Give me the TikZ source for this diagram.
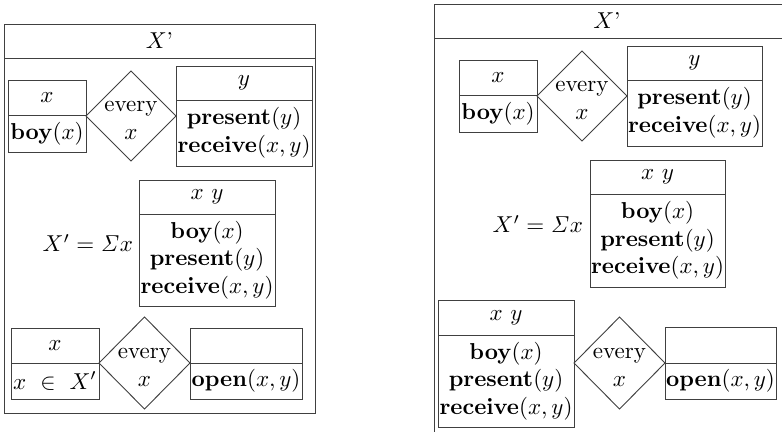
\documentclass[tikz,border=0pt]{standalone}
\usetikzlibrary{shapes.geometric}
\def\PX{0.4348}
\tikzset{
  cell/.style={draw=black!75, line width=0.4pt, rectangle, inner sep=0pt, outer sep=0pt, anchor=north west, align=center},
  dia/.style={draw=black!75, line width=0.4pt, diamond, inner sep=0pt, outer sep=0pt},
  lbl/.style={inner sep=0pt, outer sep=0pt, align=center},
}
% #1 name, #2 left, #3 top, #4 divider, #5 right, #6 bottom, #7 universe, #8 conditions
\newcommand\drsbox[8]{%
  \node[cell, minimum width={(#5-#2)*\PX*1pt}, minimum height={(#4-#3)*\PX*1pt}] (#1u) at (#2,#3) {};
  \node[cell, minimum width={(#5-#2)*\PX*1pt}, minimum height={(#6-#4)*\PX*1pt}] (#1c) at (#2,#4) {};
  \node[lbl] (#1ut) at (#1u.center) {#7};
  \node[lbl] (#1ct) at (#1c.center) {#8};
}
\newcommand\everydia[5]{% name, cx, cy, w, h
  \node[dia, minimum width={#4*\PX*1pt}, minimum height={#5*\PX*1pt}] (#1) at (#2,#3) {};
  \node[lbl] (#1t) at ([yshift=-2pt]#1.center) {every\\$x$};
}
\begin{document}
\begin{tikzpicture}[x=\PX pt, y=-\PX pt]
\useasboundingbox (0,0) rectangle (782,431);
\clip (0,0) rectangle (782,431);
% ---------- left panel ----------
\node[cell, minimum width={311*\PX*1pt}, minimum height={34*\PX*1pt}] (Lh) at (4,24) {};
\node[cell, minimum width={311*\PX*1pt}, minimum height={355*\PX*1pt}] (Lb) at (4,58) {};
\node[lbl] (Lht) at (Lh.center) {$X$’};
\drsbox{La}{8}{80}{115}{86}{152}{$x$}{$\mathbf{boy}(x)$}
\everydia{Ld1}{131}{116}{90}{90}
\drsbox{Lb}{176}{66}{100}{312}{166}{$y$}{$\mathbf{present}(y)$\\$\mathbf{receive}(x,y)$}
\node[lbl, anchor=east] (Leq) at (133,243) {$X' = \mathit{\Sigma}x$};
\drsbox{Lm}{139}{180}{214}{275}{306}{$x\ y$}{$\mathbf{boy}(x)$\\$\mathbf{present}(y)$\\$\mathbf{receive}(x,y)$}
\drsbox{Lc}{11}{328}{363}{99}{399}{$x$}{$x\ \in\ X'$}
\everydia{Ld2}{144.5}{363}{91}{92}
\drsbox{Le}{190}{328}{363}{302}{399}{}{$\mathbf{open}(x,y)$}
% ---------- right panel ----------
\node[cell, minimum width={350*\PX*1pt}, minimum height={34*\PX*1pt}] (Rh) at (434,4) {};
\node[cell, minimum width={350*\PX*1pt}, minimum height={440*\PX*1pt}] (Rb) at (434,38) {};
\node[lbl] (Rht) at (607,21) {$X$’};
\drsbox{Ra}{459}{60}{95}{537}{132}{$x$}{$\mathbf{boy}(x)$}
\everydia{Rd1}{582}{96}{90}{90}
\drsbox{Rb}{627}{46}{80}{762}{146}{$y$}{$\mathbf{present}(y)$\\$\mathbf{receive}(x,y)$}
\node[lbl, anchor=east] (Req) at (583,224) {$X' = \mathit{\Sigma}x$};
\drsbox{Rm}{590}{160}{194}{725}{287}{$x\ y$}{$\mathbf{boy}(x)$\\$\mathbf{present}(y)$\\$\mathbf{receive}(x,y)$}
\drsbox{Rc}{438}{300}{335}{574}{427}{$x\ y$}{$\mathbf{boy}(x)$\\$\mathbf{present}(y)$\\$\mathbf{receive}(x,y)$}
\everydia{Rd2}{619.5}{363}{91}{92}
\drsbox{Re}{665}{327}{363}{776}{399}{}{$\mathbf{open}(x,y)$}
\end{tikzpicture}
\end{document}
